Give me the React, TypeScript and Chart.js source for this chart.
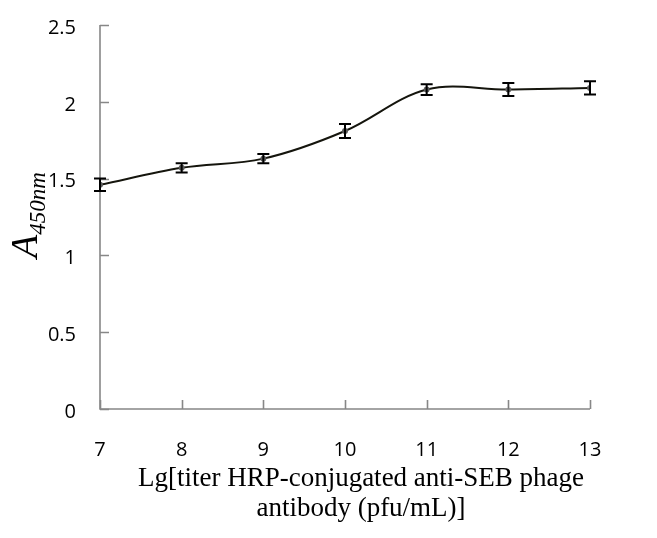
import React, { useEffect, useRef } from "react";
import { Chart, registerables } from "chart.js";

Chart.register(...registerables);

// Log10 of phage antibody titer (pfu/mL)
const titers: number[] = [7, 8, 9, 10, 11, 12, 13];
// Mean absorbance at 450 nm
const absorbance: number[] = [1.46, 1.57, 1.63, 1.81, 2.08, 2.08, 2.09];
// Standard deviation of each mean
const errors: number[] = [0.04, 0.03, 0.03, 0.045, 0.035, 0.043, 0.043];

const yTicks: number[] = [0, 0.5, 1, 1.5, 2, 2.5];
const xTitleLines: string[] = ["Lg[titer HRP-conjugated anti-SEB phage", "antibody (pfu/mL)]"];
const yTitleMain = "A";
const yTitleSub = "450nm";

const AXIS_COLOR = "#878787";
const SERIF = '"Liberation Serif", "Times New Roman", serif';
const SANS = '"Open Sans", "Noto Sans", sans-serif';

const decorPlugin = {
  id: "decor",
  beforeDatasetsDraw(chart: any) {
    const { ctx, chartArea } = chart;
    const xs = chart.scales.x;
    const ys = chart.scales.y;
    const { left, right, top, bottom } = chartArea;
    ctx.save();
    ctx.strokeStyle = AXIS_COLOR;
    ctx.lineWidth = 1.6;
    ctx.beginPath();
    ctx.moveTo(left, top);
    ctx.lineTo(left, bottom);
    ctx.lineTo(right, bottom);
    ctx.stroke();
    // inward tick marks
    ctx.beginPath();
    for (const v of yTicks) {
      const py = Math.round(ys.getPixelForValue(v)) + 0.5;
      ctx.moveTo(left, py);
      ctx.lineTo(left + 9, py);
    }
    for (const v of titers) {
      const px = Math.round(xs.getPixelForValue(v)) + 0.5;
      ctx.moveTo(px, bottom);
      ctx.lineTo(px, bottom - 9);
    }
    ctx.stroke();
    ctx.restore();
  },
  afterDatasetsDraw(chart: any) {
    const { ctx, chartArea } = chart;
    const xs = chart.scales.x;
    const ys = chart.scales.y;
    ctx.save();
    // error bars
    ctx.strokeStyle = "#000000";
    ctx.lineWidth = 2;
    titers.forEach((t, i) => {
      const px = xs.getPixelForValue(t);
      const hi = ys.getPixelForValue(absorbance[i] + errors[i]);
      const lo = ys.getPixelForValue(absorbance[i] - errors[i]);
      ctx.beginPath();
      ctx.moveTo(px, hi);
      ctx.lineTo(px, lo);
      ctx.moveTo(px - 6, hi);
      ctx.lineTo(px + 6, hi);
      ctx.moveTo(px - 6, lo);
      ctx.lineTo(px + 6, lo);
      ctx.stroke();
    });

    // x-axis title, two lines
    ctx.fillStyle = "#000000";
    ctx.font = `27px ${SERIF}`;
    ctx.textAlign = "center";
    ctx.textBaseline = "alphabetic";
    const cx = (chartArea.left + chartArea.right) / 2 + 16;
    xTitleLines.forEach((line, i) => {
      ctx.fillText(line, cx, 486 + i * 30);
    });

    // y-axis title: italic A with subscript, rotated
    const cy = (chartArea.top + chartArea.bottom) / 2 - 2;
    ctx.translate(37, cy);
    ctx.rotate(-Math.PI / 2);
    ctx.textAlign = "left";
    ctx.font = `italic 38px ${SERIF}`;
    const wA = ctx.measureText(yTitleMain).width;
    ctx.font = `italic 23px ${SERIF}`;
    const wS = ctx.measureText(yTitleSub).width;
    const start = -(wA + wS) / 2;
    ctx.font = `italic 38px ${SERIF}`;
    ctx.fillText(yTitleMain, start, 0);
    ctx.font = `italic 23px ${SERIF}`;
    ctx.fillText(yTitleSub, start + wA, 8);
    ctx.restore();
  },
};

export default function App() {
  const canvasRef = useRef<HTMLCanvasElement | null>(null);

  useEffect(() => {
    const canvas = canvasRef.current;
    if (!canvas) return;
    const chart = new Chart(canvas, {
      type: "line",
      data: {
        datasets: [
          {
            data: titers.map((t, i) => ({ x: t, y: absorbance[i] })),
            borderColor: "#15150d",
            borderWidth: 2,
            tension: 0.35,
            pointRadius: 3,
            pointBackgroundColor: "#5c5c5c",
            pointBorderWidth: 0,
            fill: false,
          },
        ],
      },
      options: {
        responsive: false,
        animation: false,
        events: [],
        layout: { padding: { left: 0, right: 67, top: 25, bottom: 0 } },
        plugins: {
          legend: { display: false },
          tooltip: { enabled: false },
        },
        scales: {
          x: {
            type: "linear",
            min: 7,
            max: 13,
            grid: { display: false, drawTicks: false },
            border: { display: false },
            ticks: {
              stepSize: 1,
              color: "#000000",
              padding: 29,
              font: { family: SANS, size: 20 },
              maxRotation: 0,
            },
            afterFit(scale: any) {
              scale.height = 129;
              scale.paddingLeft = 0;
              scale.paddingRight = 0;
            },
          },
          y: {
            min: 0,
            max: 2.5,
            grid: { display: false, drawTicks: false },
            border: { display: false },
            ticks: {
              stepSize: 0.5,
              color: "#000000",
              padding: 24,
              labelOffset: 3,
              font: { family: SANS, size: 20 },
              callback: (v: any) => String(Number(v)),
            },
            afterFit(scale: any) {
              scale.width = 100;
              scale.paddingTop = 0;
              scale.paddingBottom = 0;
            },
          },
        },
      },
      plugins: [decorPlugin],
    });
    return () => chart.destroy();
  }, []);

  return (
    <div style={{ position: "fixed", left: 0, top: 0, width: 657, height: 538, background: "#ffffff" }}>
      <canvas ref={canvasRef} width={657} height={538} style={{ width: 657, height: 538, display: "block" }} />
    </div>
  );
}
